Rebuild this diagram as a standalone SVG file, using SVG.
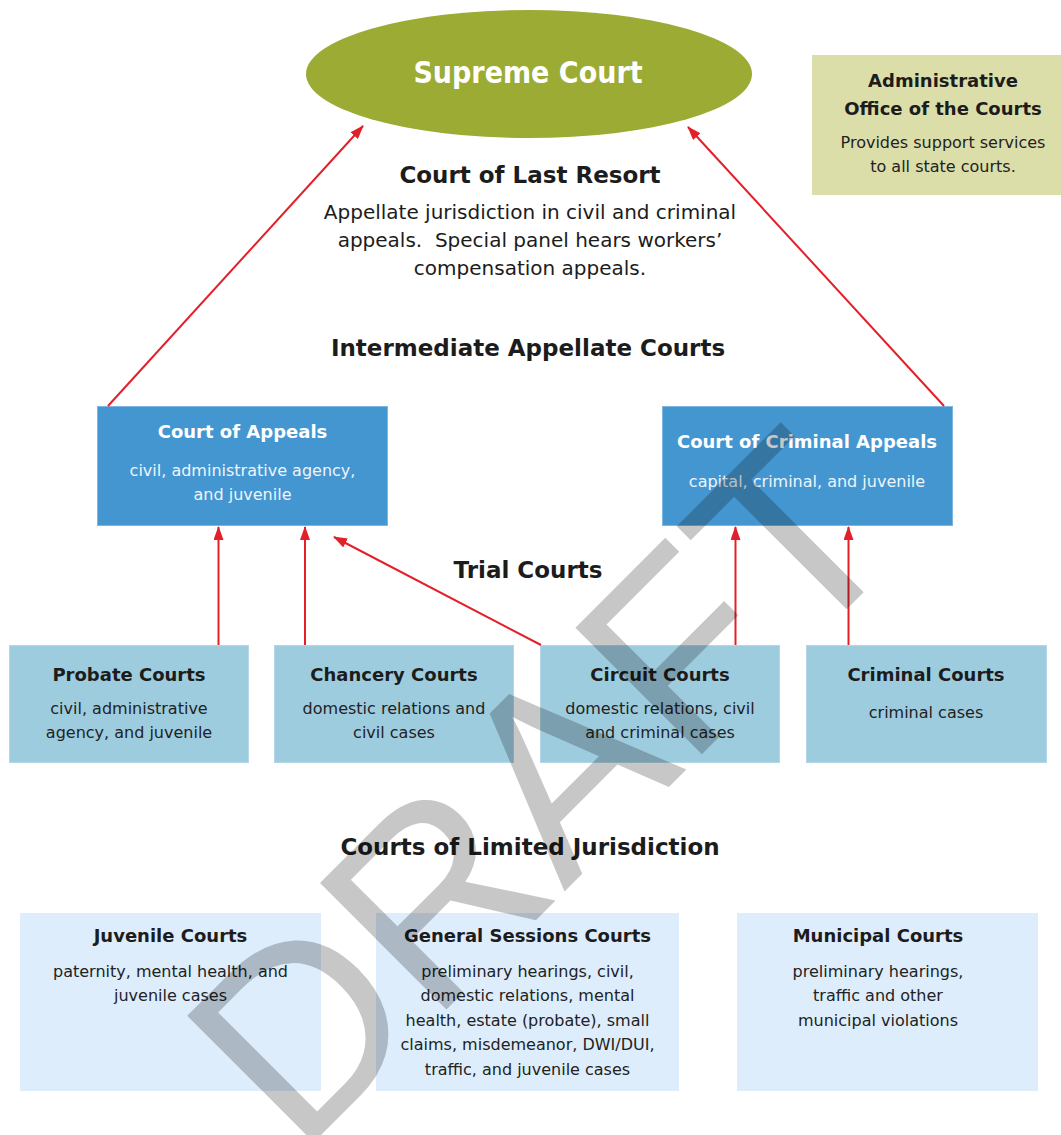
<svg xmlns="http://www.w3.org/2000/svg" width="1061" height="1135" viewBox="0 0 1061 1135">
<defs>
<marker id="ah" markerWidth="14" markerHeight="10" refX="13" refY="5" orient="auto" markerUnits="userSpaceOnUse">
<path d="M0,0 L14,5 L0,10 Z" fill="#E3202A"/>
</marker>
<style>
text{font-family:'DejaVu Sans',Verdana,sans-serif;text-anchor:middle}
.h{font-weight:bold;font-size:23px;fill:#1c1c1c}
.p{font-size:20px;fill:#1c1c1c}
.tw{font-weight:bold;font-size:18px;fill:#ffffff}
.dw{font-size:16px;fill:#eef4fa}
.tk{font-weight:bold;font-size:18px;fill:#1c1c1c}
.dk{font-size:16px;fill:#222222}
.blue{fill:#4496D0;stroke:#7DB6E0;stroke-width:1}
.trial{fill:#9ECCDF;stroke:#B4D8E8;stroke-width:1}
.lim{fill:#DDEDFC}
.conn line{stroke:#E3202A;stroke-width:2;marker-end:url(#ah)}
</style>
</defs>
<rect width="1061" height="1135" fill="#ffffff"/>

<g id="supreme-court">
<ellipse cx="529" cy="74" rx="223" ry="64" fill="#9BAB34"/>
<text x="528" y="83" style="font-weight:bold;font-size:30px;fill:#ffffff;font-stretch:condensed">Supreme Court</text>
</g>

<g id="admin-office">
<rect x="812" y="55" width="249" height="140" fill="#DCDEA9"/>
<text class="tk" x="943" y="87">Administrative</text>
<text class="tk" x="943" y="115">Office of the Courts</text>
<text class="dk" x="943" y="148">Provides support services</text>
<text class="dk" x="943" y="172">to all state courts.</text>
</g>

<g id="last-resort-label">
<text class="h" x="530" y="183">Court of Last Resort</text>
<text class="p" x="530" y="219">Appellate jurisdiction in civil and criminal</text>
<text class="p" x="530" y="247" xml:space="preserve">appeals.  Special panel hears workers’</text>
<text class="p" x="530" y="275">compensation appeals.</text>
</g>

<g id="intermediate-label">
<text class="h" x="528" y="356">Intermediate Appellate Courts</text>
</g>

<g id="court-of-appeals">
<rect class="blue" x="97.5" y="406.5" width="290" height="119"/>
<text class="tw" x="242.5" y="438">Court of Appeals</text>
<text class="dw" x="242.5" y="476">civil, administrative agency,</text>
<text class="dw" x="242.5" y="500">and juvenile</text>
</g>

<g id="court-of-criminal-appeals">
<rect class="blue" x="662.5" y="406.5" width="290" height="119"/>
<text class="tw" x="807" y="448">Court of Criminal Appeals</text>
<text class="dw" x="807" y="487">capital, criminal, and juvenile</text>
</g>

<g id="trial-label">
<text class="h" x="528" y="578">Trial Courts</text>
</g>

<g id="probate-courts">
<rect class="trial" x="9.5" y="645.5" width="239" height="117"/>
<text class="tk" x="129" y="681">Probate Courts</text>
<text class="dk" x="129" y="714">civil, administrative</text>
<text class="dk" x="129" y="738">agency, and juvenile</text>
</g>

<g id="chancery-courts">
<rect class="trial" x="274.5" y="645.5" width="239" height="117"/>
<text class="tk" x="394" y="681">Chancery Courts</text>
<text class="dk" x="394" y="714">domestic relations and</text>
<text class="dk" x="394" y="738">civil cases</text>
</g>

<g id="circuit-courts">
<rect class="trial" x="540.5" y="645.5" width="239" height="117"/>
<text class="tk" x="660" y="681">Circuit Courts</text>
<text class="dk" x="660" y="714">domestic relations, civil</text>
<text class="dk" x="660" y="738">and criminal cases</text>
</g>

<g id="criminal-courts">
<rect class="trial" x="806.5" y="645.5" width="240" height="117"/>
<text class="tk" x="926" y="681">Criminal Courts</text>
<text class="dk" x="926" y="718">criminal cases</text>
</g>

<g id="limited-label">
<text class="h" x="530" y="855">Courts of Limited Jurisdiction</text>
</g>

<g id="juvenile-courts">
<rect class="lim" x="20" y="913" width="301" height="178"/>
<text class="tk" x="170.5" y="942">Juvenile Courts</text>
<text class="dk" x="170.5" y="977">paternity, mental health, and</text>
<text class="dk" x="170.5" y="1001">juvenile cases</text>
</g>

<g id="general-sessions-courts">
<rect class="lim" x="376" y="913" width="303" height="178"/>
<text class="tk" x="527.5" y="942">General Sessions Courts</text>
<text class="dk" x="527.5" y="977">preliminary hearings, civil,</text>
<text class="dk" x="527.5" y="1001">domestic relations, mental</text>
<text class="dk" x="527.5" y="1026">health, estate (probate), small</text>
<text class="dk" x="527.5" y="1050">claims, misdemeanor, DWI/DUI,</text>
<text class="dk" x="527.5" y="1075">traffic, and juvenile cases</text>
</g>

<g id="municipal-courts">
<rect class="lim" x="737" y="913" width="301" height="178"/>
<text class="tk" x="878" y="942">Municipal Courts</text>
<text class="dk" x="878" y="977">preliminary hearings,</text>
<text class="dk" x="878" y="1001">traffic and other</text>
<text class="dk" x="878" y="1026">municipal violations</text>
</g>

<g id="connectors" class="conn">
<line x1="108" y1="406" x2="363" y2="126"/>
<line x1="944" y1="406" x2="688" y2="127"/>
<line x1="218.5" y1="645" x2="218.5" y2="527"/>
<line x1="305" y1="645" x2="305" y2="527"/>
<line x1="541" y1="645" x2="334" y2="537"/>
<line x1="735.5" y1="645" x2="735.5" y2="527"/>
<line x1="848.5" y1="645" x2="848.5" y2="527"/>
</g>

<g id="watermark">
<text x="605" y="851" transform="rotate(-45 605 851)" style="font-family:'Liberation Sans',Arial,sans-serif;font-size:260px;fill:#000000;fill-opacity:0.22;text-anchor:middle">DRAFT</text>
</g>
</svg>
